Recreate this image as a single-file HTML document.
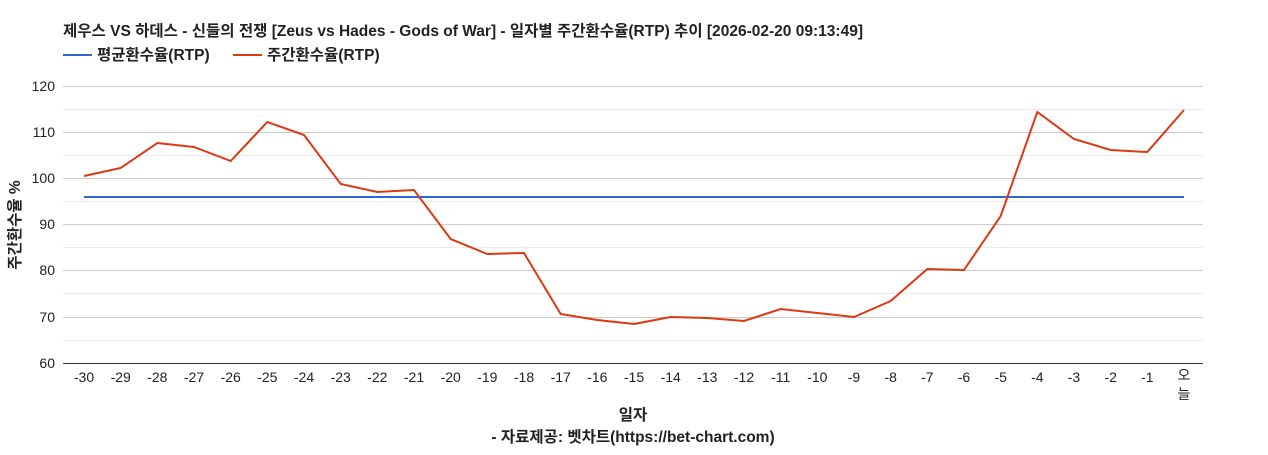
<!DOCTYPE html>
<html><head><meta charset="utf-8"><style>
body{margin:0;background:#fff;}
svg text{font-family:"Liberation Sans","Noto Sans CJK KR",sans-serif;}
</style></head><body>
<svg width="1268" height="450" xmlns="http://www.w3.org/2000/svg">
<text x="63" y="36" font-size="15.5" font-weight="bold" fill="#222" textLength="800" lengthAdjust="spacingAndGlyphs">제우스 VS 하데스 - 신들의 전쟁 [Zeus vs Hades - Gods of War] - 일자별 주간환수율(RTP) 추이 [2026-02-20 09:13:49]</text>
<line x1="63" y1="55" x2="92" y2="55" stroke="#3366cc" stroke-width="2"/>
<text x="97" y="60" font-size="15.5" font-weight="bold" fill="#222">평균환수율(RTP)</text>
<line x1="233" y1="55" x2="262" y2="55" stroke="#dc3912" stroke-width="2"/>
<text x="267" y="60" font-size="15.5" font-weight="bold" fill="#222">주간환수율(RTP)</text>
<g stroke="#ebebeb" stroke-width="1">
<line x1="63" y1="109.5" x2="1203" y2="109.5"/><line x1="63" y1="155.5" x2="1203" y2="155.5"/><line x1="63" y1="201.5" x2="1203" y2="201.5"/><line x1="63" y1="247.5" x2="1203" y2="247.5"/><line x1="63" y1="293.5" x2="1203" y2="293.5"/><line x1="63" y1="340.5" x2="1203" y2="340.5"/>
</g>
<g stroke="#cccccc" stroke-width="1">
<line x1="63" y1="86.5" x2="1203" y2="86.5"/><line x1="63" y1="132.5" x2="1203" y2="132.5"/><line x1="63" y1="178.5" x2="1203" y2="178.5"/><line x1="63" y1="224.5" x2="1203" y2="224.5"/><line x1="63" y1="270.5" x2="1203" y2="270.5"/><line x1="63" y1="317.5" x2="1203" y2="317.5"/>
</g>
<line x1="63" y1="363.5" x2="1203" y2="363.5" stroke="#333" stroke-width="1"/>
<g font-size="14" fill="#222" text-anchor="end">
<text x="55" y="91">120</text><text x="55" y="137">110</text><text x="55" y="183">100</text><text x="55" y="229">90</text><text x="55" y="275">80</text><text x="55" y="322">70</text><text x="55" y="368">60</text>
</g>
<g font-size="14" fill="#222" text-anchor="middle">
<text x="84" y="382">-30</text><text x="120.7" y="382">-29</text><text x="157.3" y="382">-28</text><text x="194" y="382">-27</text><text x="230.7" y="382">-26</text><text x="267.3" y="382">-25</text><text x="304" y="382">-24</text><text x="340.7" y="382">-23</text><text x="377.3" y="382">-22</text><text x="414" y="382">-21</text><text x="450.7" y="382">-20</text><text x="487.3" y="382">-19</text><text x="524" y="382">-18</text><text x="560.7" y="382">-17</text><text x="597.3" y="382">-16</text><text x="634" y="382">-15</text><text x="670.7" y="382">-14</text><text x="707.3" y="382">-13</text><text x="744" y="382">-12</text><text x="780.7" y="382">-11</text><text x="817.3" y="382">-10</text><text x="854" y="382">-9</text><text x="890.7" y="382">-8</text><text x="927.3" y="382">-7</text><text x="964" y="382">-6</text><text x="1000.7" y="382">-5</text><text x="1037.3" y="382">-4</text><text x="1074" y="382">-3</text><text x="1110.7" y="382">-2</text><text x="1147.3" y="382">-1</text><text x="1184" y="380">오</text><text x="1184" y="399">늘</text>
</g>
<text x="633" y="420" font-size="15.5" font-weight="bold" text-anchor="middle" fill="#222">일자</text>
<text x="633" y="442" font-size="15.5" font-weight="bold" text-anchor="middle" fill="#222">- 자료제공: 벳차트(https://bet-chart.com)</text>
<text transform="translate(20,225) rotate(-90)" font-size="15.5" font-weight="bold" text-anchor="middle" fill="#222">주간환수율 %</text>
<line x1="84" y1="197" x2="1184" y2="197" stroke="#3366cc" stroke-width="2"/>
<polyline fill="none" stroke="#dc3912" stroke-width="2" points="84,176 120.7,168 157.3,143 194,147 230.7,161 267.3,122 304,135 340.7,184 377.3,192 414,190 450.7,239 487.3,254 524,253 560.7,314 597.3,320 634,324 670.7,317 707.3,318 744,321 780.7,309 817.3,313 854,317 890.7,301 927.3,269 964,270 1000.7,216 1037.3,112 1074,139 1110.7,150 1147.3,152 1184,110"/>
</svg>
</body></html>
